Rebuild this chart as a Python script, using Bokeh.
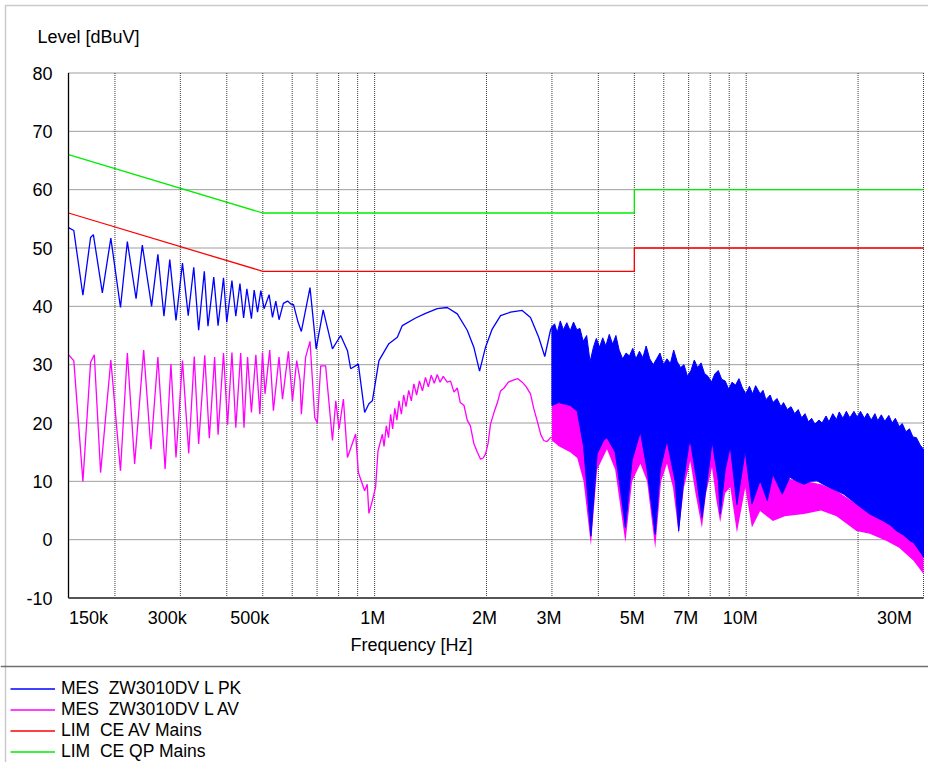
import numpy as np
from bokeh.plotting import figure
from bokeh.models import Label, Legend, LegendItem, BoxAnnotation, Span, Range1d, ColumnDataSource
from bokeh.core.properties import value
from bokeh.embed import file_html
from bokeh.resources import INLINE

# ---------------- data ----------------
# Peak detector trace, sparse part (kHz, dBuV)
pk_f_khz = [150, 155, 164, 172, 175, 185, 195, 207, 216, 228, 237, 251, 261, 271, 281,
            292, 304, 315, 326, 336, 348, 356, 369, 379, 392, 400, 413, 423, 434, 444,
            453, 466, 474, 484, 494, 504, 520, 531, 542, 553, 568, 583, 595, 605, 622,
            635, 670, 696, 727, 770, 810, 845, 862, 904, 940, 965, 986, 1027, 1092, 1151,
            1187, 1289, 1371, 1474, 1568, 1669, 1775, 1849, 1916, 1988, 2072, 2182, 2321, 2495, 2627,
            2764, 2870, 2973, 3000]
pk_level = [53.5, 53.0, 41.9, 51.8, 52.3, 42.3, 51.7, 39.8, 51.1, 41.3, 50.5, 40.0, 48.9, 38.3, 48.0,
            37.6, 47.4, 38.4, 46.7, 35.9, 46.0, 36.6, 45.0, 36.7, 44.9, 37.3, 44.4, 38.3, 43.9, 38.0,
            43.0, 37.9, 42.8, 39.0, 42.7, 39.6, 42.0, 38.1, 40.9, 37.7, 40.5, 40.9, 40.4, 40.3, 37.3,
            35.7, 43.2, 32.7, 39.4, 32.7, 35.0, 32.4, 29.3, 30.1, 21.8, 23.3, 23.8, 30.7, 33.6, 34.7,
            36.7, 38.0, 38.8, 39.6, 39.8, 38.7, 35.9, 33.0, 28.9, 33.0, 36.1, 38.4, 39.0, 39.3, 38.1,
            34.7, 31.4, 35.9, 36.5]

# Peak detector, dense part above 3 MHz: upper envelope (MHz, dBuV)
pk_hi_f_mhz = [3.00, 3.05, 3.10, 3.16, 3.22, 3.29, 3.36, 3.43, 3.50, 3.57, 3.64, 3.72, 3.80, 3.88, 3.95,
               4.03, 4.11, 4.19, 4.28, 4.37, 4.46, 4.55, 4.65, 4.75, 4.85, 4.95, 5.05, 5.16, 5.27, 5.38,
               5.50, 5.62, 5.74, 5.86, 5.99, 6.12, 6.25, 6.38, 6.52, 6.66, 6.80, 6.95, 7.10, 7.25, 7.40,
               7.56, 7.72, 7.89, 8.06, 8.23, 8.41, 8.59, 8.78, 8.97, 9.16, 9.36, 9.56, 9.77, 9.98, 10.2,
               10.4, 10.6, 10.9, 11.1, 11.3, 11.6, 11.8, 12.1, 12.4, 12.6, 12.9, 13.2, 13.5, 13.8, 14.1,
               14.4, 14.7, 15.0, 15.3, 15.7, 16.0, 16.4, 16.7, 17.1, 17.5, 17.8, 18.2, 18.6, 19.0, 19.5,
               19.9, 20.3, 20.8, 21.2, 21.7, 22.2, 22.6, 23.1, 23.6, 24.2, 24.7, 25.2, 25.8, 26.3, 26.9,
               27.5, 28.1, 28.7, 29.4, 30.0]
pk_hi = [36.5, 37.0, 35.5, 37.5, 36.0, 37.2, 35.8, 37.3, 36.0, 36.2, 34.0, 35.0, 30.5, 33.0, 34.5,
         33.0, 34.6, 33.2, 35.2, 33.5, 35.0, 32.5, 31.0, 32.0, 31.5, 32.8, 31.0, 32.3, 31.2, 33.2,
         31.0, 30.0, 31.0, 32.0, 30.0, 31.0, 30.2, 32.5, 30.5, 29.5, 30.0, 28.0, 29.0, 30.8, 29.5,
         30.3, 28.5, 28.0, 27.0, 28.4, 29.0, 27.5, 27.2, 25.8, 27.0, 26.5, 27.6, 26.0, 25.0, 26.3,
         25.0, 26.4, 25.0, 25.6, 24.0, 24.8, 23.5, 24.2, 22.8, 23.5, 22.3, 22.8, 21.6, 22.3, 20.9,
         21.6, 20.2, 20.8, 19.8, 20.5, 20.0, 21.2, 20.2, 21.6, 20.6, 21.9, 20.8, 22.0, 20.9, 22.0,
         21.0, 22.0, 20.8, 21.7, 20.5, 21.6, 20.4, 21.4, 20.3, 21.3, 20.0, 20.8, 19.4, 19.9, 18.5,
         19.0, 17.6, 17.5, 16.2, 15.5]
# Peak detector, dense part above 3 MHz: lower envelope (MHz, dBuV)
pk_lo_f_mhz = [3.00, 3.13, 3.36, 3.51, 3.65, 3.76, 3.82, 3.97, 4.13, 4.22, 4.44, 4.58, 4.73, 4.93, 5.19,
               5.41, 5.69, 5.87, 6.12, 6.44, 6.58, 6.78, 7.00, 7.07, 7.37, 7.60, 8.00, 8.09, 8.42, 8.51,
               8.78, 9.06, 9.44, 9.94, 10.36, 10.9, 11.4, 11.8, 12.5, 13.1, 13.7, 14.3, 14.9, 15.5, 16.1,
               16.8, 17.5, 18.3, 19.8, 21.5, 23.4, 24.4, 25.4, 26.5, 27.6, 28.2, 29.7, 30.0]
pk_lo = [23.0, 23.5, 23.0, 22.0, 16.0, 6.0, 0.6, 14.7, 17.0, 17.5, 15.0, 8.9, 2.1, 13.6, 18.5,
         12.0, 0.9, 12.0, 17.0, 10.0, 1.5, 10.0, 16.0, 17.0, 10.0, 3.8, 14.0, 17.0, 10.0, 4.4,
         12.0, 16.0, 6.0, 15.2, 6.1, 10.1, 6.7, 11.2, 7.8, 10.7, 10.0, 9.5, 10.0, 10.1, 9.5,
         8.9, 8.4, 7.8, 6.1, 4.4, 3.2, 2.5, 1.5, 0.8, -0.2, -0.5, -2.5, -3.0]

# Average detector trace, sparse part (kHz, dBuV)
av_f_khz = [150, 155, 164, 172, 176, 183, 195, 207, 216, 226, 239, 250, 261, 273, 283,
            292, 304, 316, 327, 336, 349, 359, 371, 379, 392, 402, 413, 423, 436, 445,
            455, 466, 479, 491, 499, 507, 522, 534, 553, 565, 586, 601, 617, 630, 635,
            652, 670, 690, 701, 716, 738, 770, 786, 802, 824, 845, 889, 904, 940, 955,
            965, 986, 1006, 1021, 1049, 1060, 1075, 1090, 1104, 1118, 1133, 1148, 1163, 1180, 1197,
            1215, 1235, 1255, 1275, 1297, 1320, 1345, 1370, 1395, 1420, 1447, 1474, 1500, 1530, 1568,
            1600, 1635, 1669, 1700, 1740, 1775, 1810, 1849, 1890, 1928, 1960, 1988, 2020, 2050, 2100,
            2140, 2182, 2230, 2290, 2369, 2430, 2495, 2560, 2627, 2680, 2737, 2800, 2852, 2910, 2973,
            3000]
av_level = [31.7, 30.7, 10.0, 30.4, 31.7, 11.5, 30.8, 11.8, 32.0, 13.0, 32.5, 15.5, 31.3, 12.1, 30.1,
            14.1, 30.7, 14.8, 31.4, 16.4, 31.6, 17.4, 31.3, 18.0, 32.0, 19.7, 32.1, 19.2, 32.0, 19.2,
            31.3, 21.8, 31.7, 21.5, 32.1, 25.0, 32.5, 22.1, 31.3, 24.1, 32.3, 23.8, 30.7, 27.3, 21.5,
            31.3, 34.0, 20.9, 20.0, 29.8, 29.8, 17.0, 23.8, 19.0, 24.1, 14.1, 18.1, 11.5, 8.4, 9.5,
            4.5, 6.7, 9.0, 15.2, 18.1, 16.0, 19.5, 17.5, 21.5, 19.0, 22.5, 20.5, 23.8, 21.5, 24.8,
            22.8, 25.6, 23.8, 26.7, 24.8, 27.2, 25.5, 27.8, 26.2, 28.2, 26.8, 28.3, 27.0, 28.0, 27.0,
            27.2, 25.3, 26.0, 23.5, 23.0, 20.5, 19.5, 16.5, 15.0, 13.8, 14.0, 14.7, 16.5, 19.8, 22.0,
            23.5, 25.5, 26.0, 27.0, 27.4, 27.6, 27.0, 26.2, 25.0, 22.5, 20.4, 18.0, 17.0, 16.8, 17.5,
            17.5]

# Average detector, dense part above 3 MHz (MHz, upper / lower envelope)
av_band_f_mhz = [3.00, 3.13, 3.36, 3.51, 3.65, 3.82, 3.97, 4.22, 4.44, 4.73, 4.93, 5.19, 5.41, 5.69, 5.90,
                 6.12, 6.35, 6.58, 6.80, 7.07, 7.30, 7.60, 7.80, 8.09, 8.30, 8.51, 8.78, 9.06, 9.44, 9.94,
                 10.36, 10.9, 11.8, 12.7, 14.3, 15.9, 17.5, 19.8, 21.5, 23.8, 25.8, 28.2, 30.0]
av_band_hi = [23.0, 23.5, 23.0, 22.0, 20.0, 14.0, 19.0, 21.0, 19.0, 10.0, 17.0, 20.0, 18.0, 10.0, 18.0,
              21.0, 17.0, 8.0, 15.0, 20.0, 15.0, 8.0, 14.0, 19.0, 15.0, 9.0, 14.0, 17.0, 9.0, 14.7,
              10.7, 12.0, 11.2, 10.5, 10.1, 9.5, 8.4, 6.1, 4.9, 4.0, 2.7, 1.0, -0.2]
av_band_lo = [17.0, 16.0, 15.0, 14.0, 10.0, -1.0, 12.0, 15.5, 12.0, -0.5, 10.0, 13.0, 10.0, -1.5, 10.0,
              13.0, 9.0, 1.0, 9.0, 13.5, 8.0, 2.0, 8.0, 12.4, 7.0, 3.0, 8.0, 9.0, 1.2, 8.9,
              2.1, 4.9, 3.2, 4.0, 4.4, 5.0, 4.0, 1.5, 1.0, -0.2, -1.4, -3.6, -5.9]

# Limit lines (MHz, dBuV)
lim_f_mhz = [0.15, 0.5, 5.0, 5.0, 30.0]
lim_av = [56, 46, 46, 50, 50]
lim_qp = [66, 56, 56, 60, 60]

series_names = ["MES  ZW3010DV L PK", "MES  ZW3010DV L AV", "LIM  CE AV Mains", "LIM  CE QP Mains"]

y_ticks = [-10, 0, 10, 20, 30, 40, 50, 60, 70, 80]
y_tick_text = ["-10", "0", "10", "20", "30", "40", "50", "60", "70", "80"]
grid_f_hz = [200e3, 300e3, 400e3, 500e3, 600e3, 700e3, 800e3, 900e3,
             1e6, 2e6, 3e6, 4e6, 5e6, 6e6, 7e6, 8e6, 9e6, 10e6, 20e6, 30e6]
x_tick_hz = [150e3, 300e3, 500e3, 1e6, 2e6, 3e6, 5e6, 7e6, 10e6, 30e6]
x_tick_text = ["150k", "300k", "500k", "1M", "2M", "3M", "5M", "7M", "10M", "30M"]

# ---------------- layout ----------------
FONT = "Liberation Sans"
W, H = 928, 762
PL, PR, PT, PB = 68, 923, 72.5, 597.5       # plot area in canvas pixels
X0, X1, Y0, Y1 = 150e3, 30e6, -10, 80       # plot area in data units
DEC = (PR - PL) / np.log10(X1 / X0)
DB = (PB - PT) / (Y1 - Y0)


def fx(px):  # canvas pixel -> frequency (placement of decorations only)
    return X0 * 10 ** ((px - PL) / DEC)


def fy(py):  # canvas pixel -> level (placement of decorations only)
    return Y1 - (py - PT) / DB


p = figure(width=W, height=H, x_axis_type="log",
           x_range=Range1d(fx(0), fx(W)), y_range=Range1d(fy(H), fy(0)),
           x_axis_location=None, y_axis_location=None, title_location=None,
           output_backend="svg", toolbar_location=None,
           min_border=0, min_border_left=0, min_border_right=0, min_border_top=0, min_border_bottom=0)
p.outline_line_color = None
p.background_fill_color = "white"
p.border_fill_color = "white"
p.grid.visible = False

# grid (dotted)
GRID = "#3c3c3c"
p.segment(x0=grid_f_hz, y0=[Y0] * len(grid_f_hz), x1=grid_f_hz, y1=[Y1] * len(grid_f_hz),
          line_color=GRID, line_dash="1 1", line_width=1)
p.segment(x0=[X0] * len(y_ticks), y0=y_ticks, x1=[X1] * len(y_ticks), y1=y_ticks,
          line_color=GRID, line_dash="1 1", line_width=1)

# ---------------- traces ----------------
BLUE, MAG, RED, GREEN = "#0000ff", "#ff00ff", "#ff0000", "#00ee00"
LW = 1.3

av_line = p.line(np.array(av_f_khz) * 1e3, av_level, line_color=MAG, line_width=LW)
p.varea(x=np.array(av_band_f_mhz) * 1e6, y1=av_band_lo, y2=av_band_hi, fill_color=MAG)
pk_line = p.line(np.array(pk_f_khz) * 1e3, pk_level, line_color=BLUE, line_width=LW)
pk_patch_x = np.concatenate([np.array(pk_hi_f_mhz), np.array(pk_lo_f_mhz)[::-1]]) * 1e6
pk_patch_y = np.concatenate([np.array(pk_hi), np.array(pk_lo)[::-1]])
p.patch(pk_patch_x, pk_patch_y, fill_color=BLUE, line_color=BLUE, line_width=1)

lim_av_line = p.line(np.array(lim_f_mhz) * 1e6, lim_av, line_color=RED, line_width=LW)
lim_qp_line = p.line(np.array(lim_f_mhz) * 1e6, lim_qp, line_color=GREEN, line_width=LW)

# axes lines
p.segment(x0=[X0], y0=[Y0], x1=[X0], y1=[Y1], line_color="black", line_width=1.3)
p.segment(x0=[X0], y0=[Y0], x1=[X1], y1=[Y0], line_color="#555555", line_width=2)

# ---------------- texts ----------------
ysrc = ColumnDataSource(dict(x=[X0] * len(y_ticks), y=y_ticks, t=y_tick_text))
p.text(x="x", y="y", text="t", source=ysrc, x_offset=-16, text_align="right",
       text_baseline="middle", text_font=value(FONT), text_font_size=value("18px"),
       text_color="black")

x_tick_shift = [20, -13, -13, -2, -2, -3, -2, -3, -6, -29]
xsrc = ColumnDataSource(dict(x=x_tick_hz, y=[fy(617)] * len(x_tick_hz), t=x_tick_text,
                             dx=x_tick_shift))
p.text(x="x", y="y", text="t", source=xsrc, x_offset="dx", text_align="center",
       text_baseline="middle", text_font=value(FONT), text_font_size=value("18px"),
       text_color="black")

p.add_layout(Label(x=fx(413.5), y=fy(644), text="Frequency  [Hz]", text_align="center",
                   text_baseline="middle", text_font=FONT, text_font_size="18px", text_color="black"))
p.add_layout(Label(x=fx(37), y=fy(36), text="Level [dBuV]", text_align="left",
                   text_baseline="middle", text_font=FONT, text_font_size="18px", text_color="black"))

# frame around the page and the legend separator
p.add_layout(BoxAnnotation(left=fx(5), right=fx(960), top=fy(5), bottom=fy(800),
                           fill_alpha=0, line_color="#505050", line_width=1.5, level="overlay"))
p.add_layout(Span(location=fy(666), dimension="width", line_color="#707070", line_width=1.5))

legend = Legend(items=[LegendItem(label=series_names[0], renderers=[pk_line]),
                       LegendItem(label=series_names[1], renderers=[av_line]),
                       LegendItem(label=series_names[2], renderers=[lim_av_line]),
                       LegendItem(label=series_names[3], renderers=[lim_qp_line])],
                location=(10, 0), orientation="vertical",
                padding=0, margin=0, spacing=0, glyph_width=45, glyph_height=21,
                label_height=21, label_standoff=6,
                label_text_font=FONT, label_text_font_size="17.5px", label_text_color="black",
                border_line_alpha=0, background_fill_alpha=0)
p.add_layout(legend)

open("out.html", "w").write(file_html(p, INLINE))
